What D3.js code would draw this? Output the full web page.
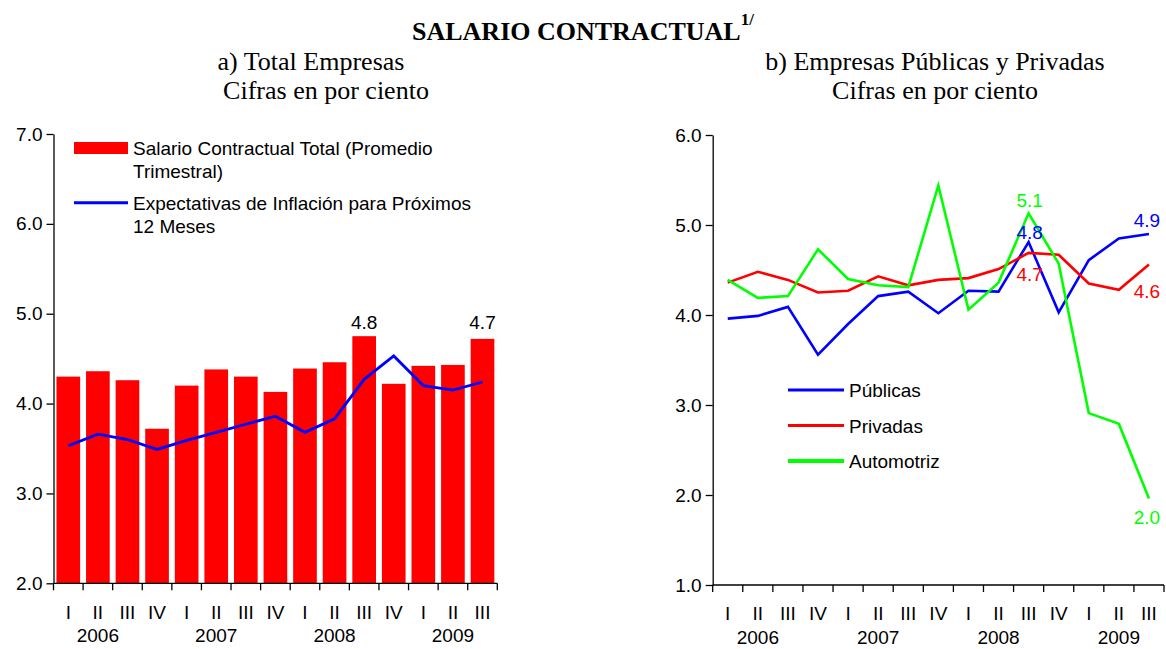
<!DOCTYPE html>
<html>
<head>
<meta charset="utf-8">
<script src="https://cdn.jsdelivr.net/npm/d3@7"></script>
<style>
    body { margin: 0; background: #fff; }
    text { font-family: "Liberation Sans", Arial, sans-serif; }
    .serif { font-family: "Liberation Serif", "Times New Roman", serif; }
</style>
</head>
<body>
<svg id="chart" width="1166" height="649"></svg>
<script>
// trimestres
const quarters = ["I", "II", "III", "IV", "I", "II", "III", "IV", "I", "II", "III", "IV", "I", "II", "III"]
const years = ["2006", "2007", "2008", "2009"]

// a) Total Empresas
const salarioTotal = [4.30, 4.36, 4.26, 3.72, 4.20, 4.38, 4.30, 4.13, 4.39, 4.46, 4.75, 4.22, 4.42, 4.43, 4.72]
const expectativas = [3.53, 3.66, 3.60, 3.49, 3.59, 3.68, 3.77, 3.86, 3.68, 3.83, 4.27, 4.53, 4.20, 4.15, 4.24]

// b) Empresas Publicas y Privadas
const publicas = [3.96, 3.99, 4.09, 3.56, 3.90, 4.21, 4.26, 4.02, 4.27, 4.26, 4.81, 4.03, 4.61, 4.85, 4.90]
const privadas = [4.36, 4.48, 4.39, 4.25, 4.27, 4.43, 4.33, 4.39, 4.41, 4.51, 4.69, 4.67, 4.35, 4.28, 4.56]
const automotriz = [4.39, 4.19, 4.21, 4.73, 4.40, 4.33, 4.31, 5.44, 4.06, 4.36, 5.13, 4.57, 2.91, 2.79, 1.96]

const leftTicks = [2, 3, 4, 5, 6, 7]
const rightTicks = [1, 2, 3, 4, 5, 6]

const svg = d3.select("#chart")
const idx = quarters.map((q, i) => i)
const fmt = d3.format(".1f")

// titulos
let title = svg.append("text").attr("class", "serif").attr("x", 412).attr("y", 40)
    .style("font-size", "26px").style("font-weight", "bold")
title.append("tspan").text("SALARIO CONTRACTUAL")
title.append("tspan").attr("dy", -15).style("font-size", "17px").text("1/")

const subtitles = [
    { t: "a) Total Empresas", x: 311, y: 70 },
    { t: "Cifras en por ciento", x: 326, y: 99 },
    { t: "b) Empresas Públicas y Privadas", x: 935, y: 70 },
    { t: "Cifras en por ciento", x: 935, y: 99 },
]
svg.selectAll("text.sub").data(subtitles).enter().append("text")
    .attr("class", "sub serif")
    .attr("x", (d) => d.x).attr("y", (d) => d.y)
    .attr("text-anchor", "middle")
    .style("font-size", "26px")
    .text((d) => d.t)

function draw_axes(g, x0, x1, yBase, y, ticks, yQ, yY) {
    let yAxis = d3.axisLeft(y).tickValues(ticks).tickFormat(fmt).tickSize(7).tickSizeOuter(0).tickPadding(4)
    let ga = g.append("g").attr("transform", "translate(" + x0 + ",0)").call(yAxis)
    ga.selectAll("text").style("font-size", "19px").attr("fill", "#000")
    ga.selectAll("line, path").attr("stroke", "#000").attr("stroke-width", 1.3)

    let xb = d3.scaleBand().domain(idx).range([x0, x1])
    g.append("line").attr("x1", x0).attr("x2", x1).attr("y1", yBase).attr("y2", yBase)
        .attr("stroke", "#000").attr("stroke-width", 1.3)
    g.selectAll("line.xtick").data(idx.concat([quarters.length])).enter().append("line")
        .attr("class", "xtick")
        .attr("x1", (i) => x0 + i * xb.step()).attr("x2", (i) => x0 + i * xb.step())
        .attr("y1", yBase).attr("y2", yBase + 7)
        .attr("stroke", "#000").attr("stroke-width", 1.3)
    g.selectAll("text.q").data(idx).enter().append("text")
        .attr("class", "q")
        .attr("x", (i) => xb(i) + xb.bandwidth() / 2).attr("y", yQ)
        .attr("text-anchor", "middle").style("font-size", "19px")
        .text((i) => quarters[i])
    g.selectAll("text.yr").data(years).enter().append("text")
        .attr("class", "yr")
        .attr("x", (d, k) => xb(k * 4 + 1) + xb.bandwidth() / 2).attr("y", yY)
        .attr("text-anchor", "middle").style("font-size", "19px")
        .text((d) => d)
    return xb
}

// ---- a) ----
function draw_left() {
    let g = svg.append("g")
    let y = d3.scaleLinear().domain([2, 7]).range([583.3, 134])
    let x = d3.scaleBand().domain(idx).range([53.5, 497.3]).paddingInner(0.2).paddingOuter(0.1)

    g.selectAll("rect.bar").data(salarioTotal).enter().append("rect")
        .attr("class", "bar")
        .attr("x", (d, i) => x(i)).attr("width", x.bandwidth())
        .attr("y", (d) => y(d)).attr("height", (d) => y(2) - y(d))
        .attr("fill", "#ff0000")

    let xb = draw_axes(g, 53.5, 497.3, 583.3, y, leftTicks, 619, 642)

    let line = d3.line().x((d, i) => xb(i) + xb.bandwidth() / 2).y((d) => y(d))
    g.append("path").attr("d", line(expectativas))
        .attr("fill", "none").attr("stroke", "#0000ff").attr("stroke-width", 2.8)

    // etiquetas
    ;[10, 14].forEach((i) => {
        g.append("text")
            .attr("x", xb(i) + xb.bandwidth() / 2).attr("y", 329)
            .attr("text-anchor", "middle").style("font-size", "19px")
            .text(fmt(salarioTotal[i]))
    })

    // leyenda
    g.append("rect").attr("x", 74).attr("y", 142).attr("width", 54).attr("height", 12).attr("fill", "#ff0000")
    g.append("line").attr("x1", 74).attr("x2", 128).attr("y1", 202.7).attr("y2", 202.7)
        .attr("stroke", "#0000ff").attr("stroke-width", 3)
    const legendLines = [
        ["Salario Contractual Total (Promedio", 155],
        ["Trimestral)", 178],
        ["Expectativas de Inflación para Próximos", 210],
        ["12 Meses", 233],
    ]
    g.selectAll("text.leg").data(legendLines).enter().append("text")
        .attr("class", "leg")
        .attr("x", 133).attr("y", (d) => d[1])
        .style("font-size", "19px")
        .text((d) => d[0])
}

// ---- b) ----
function draw_right() {
    let g = svg.append("g")
    let y = d3.scaleLinear().domain([1, 6]).range([585, 135])
    let xb = draw_axes(g, 712.7, 1164, 585, y, rightTicks, 620, 644)
    let cx = (i) => xb(i) + xb.bandwidth() / 2
    let line = d3.line().x((d, i) => cx(i)).y((d) => y(d))

    const series = [
        { name: "Públicas", values: publicas, color: "#0000ff" },
        { name: "Privadas", values: privadas, color: "#ff0000" },
        { name: "Automotriz", values: automotriz, color: "#00ff00" },
    ]
    g.selectAll("path.serie").data(series).enter().append("path")
        .attr("class", "serie")
        .attr("d", (d) => line(d.values))
        .attr("fill", "none").attr("stroke", (d) => d.color).attr("stroke-width", 2.6)

    // etiquetas
    const labels = [
        { s: 2, i: 10, dy: -6 },
        { s: 0, i: 10, dy: -3 },
        { s: 1, i: 10, dy: 28 },
        { s: 0, i: 14, dy: -7 },
        { s: 1, i: 14, dy: 33 },
        { s: 2, i: 14, dy: 25 },
    ]
    g.selectAll("text.lab").data(labels).enter().append("text")
        .attr("class", "lab")
        .attr("x", (d) => cx(d.i) - (d.i == 14 ? 2 : -1))
        .attr("y", (d) => y(series[d.s].values[d.i]) + d.dy)
        .attr("text-anchor", "middle").style("font-size", "19px")
        .attr("fill", (d) => series[d.s].color)
        .text((d) => fmt(series[d.s].values[d.i]))

    // leyenda
    let leg = g.selectAll("g.leg").data(series).enter().append("g")
        .attr("class", "leg")
        .attr("transform", (d, k) => "translate(788," + (390 + k * 35.5) + ")")
    leg.append("line").attr("x1", 0).attr("x2", 56)
        .attr("stroke", (d) => d.color).attr("stroke-width", (d, k) => (k == 2 ? 4 : 3))
    leg.append("text").attr("x", 61).attr("y", 7).style("font-size", "19px").text((d) => d.name)
}

draw_left()
draw_right()
</script>
</body>
</html>
